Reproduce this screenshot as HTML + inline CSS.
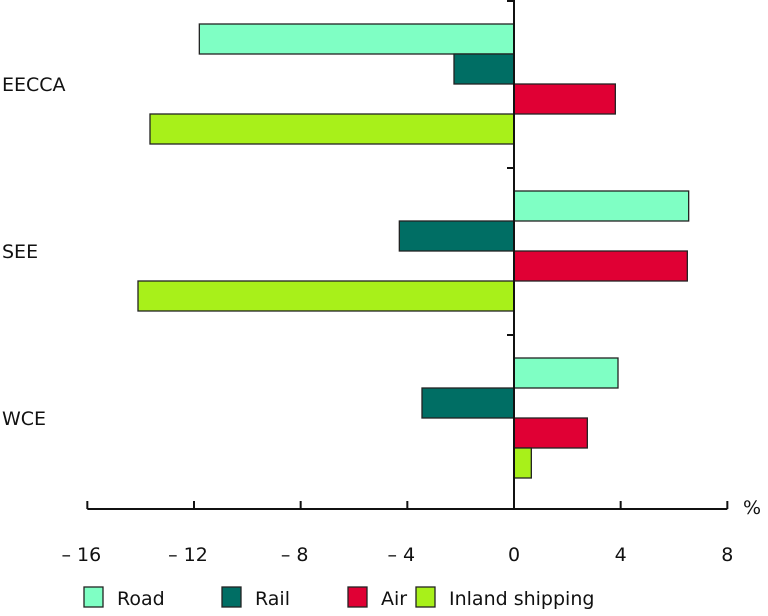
<!DOCTYPE html>
<html><head><meta charset="utf-8"><style>
body{margin:0;background:#fff}
svg text{font-family:"DejaVu Sans","Liberation Sans",sans-serif;font-size:19px;fill:#111}
</style></head><body>
<svg width="768" height="611" id="c"></svg>
<script>
const categories=["EECCA","SEE","WCE"];
const seriesNames=["Road","Rail","Air","Inland shipping"];
const road=[-11.8,6.55,3.9];
const rail=[-2.25,-4.3,-3.45];
const air=[3.8,6.5,2.75];
const inland=[-13.65,-14.1,0.65];
const ticks=[-16,-12,-8,-4,0,4,8];
const tickLabels=["– 16","– 12","– 8","– 4","0","4","8"];
const colors=["#7fffc4","#006e64","#e00034","#a8f01a"];
const series=[road,rail,air,inland];
const NS="http://www.w3.org/2000/svg";
const svg=document.getElementById('c');
const x=v=>514+v*26.667;
const y0=24,pitch=167,bh=30;
function mk(t,a,p){const e=document.createElementNS(NS,t);for(const k in a)e.setAttribute(k,a[k]);(p||svg).appendChild(e);return e;}
series.forEach((s,si)=>{s.forEach((v,ci)=>{
 const r=mk('rect',{x:Math.min(x(0),x(v)),y:y0+ci*pitch+si*bh,width:Math.abs(x(v)-x(0)),height:bh,fill:colors[si],stroke:'#222','stroke-width':1.3});
 
 
});});
categories.forEach((c,ci)=>{
 const t=mk('text',{x:2,y:y0+ci*pitch+67});t.textContent=c;
 
 
});
let ax=mk('line',{x1:x(0),y1:0,x2:x(0),y2:509,stroke:'#111','stroke-width':2});

[0,167,334].forEach(v=>mk('line',{x1:x(0)-7,y1:v+1,x2:x(0),y2:v+1,stroke:'#111','stroke-width':2}));
let xa=mk('line',{x1:x(-16),y1:509,x2:x(8),y2:509,stroke:'#111','stroke-width':2});

ticks.forEach((v,i)=>{
 mk('line',{x1:x(v),y1:501,x2:x(v),y2:509,stroke:'#111','stroke-width':2});
 const t=mk('text',{x:x(v)+(v<0?-6:0),y:561,'text-anchor':'middle'});t.textContent=tickLabels[i];
 
 
});
let pc=mk('text',{x:743,y:514});pc.textContent='%';

const lx=[84,222,348,416];
seriesNames.forEach((n,i)=>{
 const g=mk('g',{});
 
 
 mk('rect',{x:lx[i],y:587,width:19,height:20,fill:colors[i],stroke:'#222','stroke-width':1.3},g);
 const t=mk('text',{x:lx[i]+33,y:605},g);t.textContent=n;
});
</script>
</body></html>
